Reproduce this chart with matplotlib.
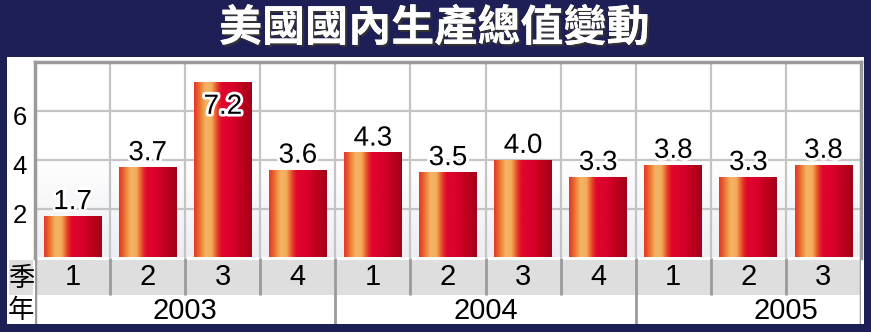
import matplotlib.pyplot as plt
import matplotlib.patheffects as pe
import matplotlib.transforms as mtransforms
from matplotlib.colors import LinearSegmentedColormap
from matplotlib.patches import Rectangle
import numpy as np

# data
title = "美國國內生產總值變動"
quarters = ['1', '2', '3', '4', '1', '2', '3', '4', '1', '2', '3']
years = ['2003', '2004', '2005']
year_pos = [1.5, 5.5, 9.5]
gdp = [1.7, 3.7, 7.2, 3.6, 4.3, 3.5, 4.0, 3.3, 3.8, 3.3, 3.8]

W, H = 871, 332
navy = '#1f1f57'
grid_c = '#c4c4c4'
frame_c = '#9a9a9a'

def fx(px):
    return px / W

def fy(py):
    return 1 - py / H

fig = plt.figure(figsize=(W / 100, H / 100), dpi=100, facecolor=navy)

# white panel
fig.patches.append(Rectangle((fx(7), fy(324)), fx(864) - fx(7), fy(57) - fy(324),
                             transform=fig.transFigure, facecolor='white',
                             edgecolor='none', zorder=-2))
fig.patches.append(Rectangle((fx(9), fy(295)), fx(33) - fx(9), fy(260) - fy(295),
                             transform=fig.transFigure, facecolor='#dedede',
                             edgecolor='none', zorder=-1))

fig.text(fx(434), fy(28), title, color='white', fontsize=31, fontweight='bold',
         family=['Noto Sans CJK TC', 'DejaVu Sans'], ha='center', va='center',
         path_effects=[pe.withSimplePatchShadow(offset=(1.5, -1.5), shadow_rgbFace='#333333', alpha=1),
                       pe.Normal()])

# main plot
ax = fig.add_axes([fx(35), fy(257.5), fx(861) - fx(35), fy(62) - fy(257.5)])
ax.set_facecolor('white')

bg = np.linspace(0, 1, 100).reshape(-1, 1)
bg_cmap = LinearSegmentedColormap.from_list('bg', ['#eceef2', '#ffffff', '#ffffff'])
ax.imshow(bg, extent=[-0.5, len(gdp) - 0.5, 0, 8], origin='lower', aspect='auto',
          cmap=bg_cmap, zorder=0)

for k in range(1, len(gdp)):
    ax.axvline(k - 0.5, color=grid_c, lw=1.6, zorder=1)
for v in [2, 4, 6]:
    ax.axhline(v, color=grid_c, lw=1.6, zorder=1)

bar_cmap = LinearSegmentedColormap.from_list('bar', [
    (0.0, '#e4382a'), (0.06, '#e8582c'), (0.13, '#ee8a3c'), (0.2, '#f4b466'),
    (0.3, '#f3ad5c'), (0.36, '#ea7034'), (0.42, '#e2302a'), (0.48, '#e0062c'),
    (0.68, '#d8002c'), (0.8, '#c2001e'), (1.0, '#a4001a')])
grad = np.linspace(0, 1, 200).reshape(1, -1)

x = np.arange(len(gdp))
bars = ax.bar(x, gdp, width=0.77, color='none', edgecolor='none', zorder=2)
for b, v in zip(bars, gdp):
    im = ax.imshow(grad, extent=[b.get_x(), b.get_x() + b.get_width(), 0, b.get_height()],
                   aspect='auto', cmap=bar_cmap, zorder=2)
    im.set_clip_path(b)
    if v > 6.5:
        ty = v - 1.32
    else:
        ty = v + 0.28
    ax.text(b.get_x() + b.get_width() / 2, ty, f"{v:.1f}", ha='center', va='baseline',
            fontsize=20, family='Liberation Sans', color='black', zorder=4,
            path_effects=[pe.withStroke(linewidth=4, foreground='white')])

ax.set_xlim(-0.5, len(gdp) - 0.5)
ax.set_ylim(0, 8)
ax.set_yticks([2, 4, 6])
ax.set_yticklabels(['2', '4', '6'], fontsize=18.5, family='Liberation Sans')
ax.tick_params(axis='y', length=0, pad=6)
shift = mtransforms.ScaledTranslation(0, -0.045, fig.dpi_scale_trans)
for lab in ax.get_yticklabels():
    lab.set_transform(lab.get_transform() + shift)
ax.set_xticks([])
for s in ['left', 'top', 'right']:
    ax.spines[s].set_color(frame_c)
    ax.spines[s].set_linewidth(2.5)
ax.spines['bottom'].set_visible(False)

# category table under the plot
tb = fig.add_axes([fx(35), fy(324), fx(861) - fx(35), fy(258) - fy(324)])
tb.set_xlim(-0.5, len(gdp) - 0.5)
tb.set_ylim(0, 66)
tb.axis('off')
tb.add_patch(Rectangle((-0.5, 29), len(gdp), 35, facecolor='#dedede', edgecolor='none'))
for k in range(1, len(gdp)):
    if k % 4 == 0:
        tb.plot([k - 0.5, k - 0.5], [0, 66], color=frame_c, lw=2, solid_capstyle='butt')
    else:
        tb.plot([k - 0.5, k - 0.5], [29, 66], color=frame_c, lw=2, solid_capstyle='butt')
for xe in [-0.5, len(gdp) - 0.5]:
    tb.plot([xe, xe], [0, 66], color=frame_c, lw=2.5, solid_capstyle='butt')
for i, q in enumerate(quarters):
    tb.text(i, 47, q, ha='center', va='center', fontsize=21, family='Liberation Sans')
for yp, yr in zip(year_pos, years):
    tb.text(yp, 13, yr, ha='center', va='center', fontsize=21, family='Liberation Sans')

# row headers
fig.text(fx(21), fy(278), '季', fontsize=19, family=['Noto Sans CJK TC', 'DejaVu Sans'],
         ha='center', va='center')
fig.text(fx(21), fy(310), '年', fontsize=19, family=['Noto Sans CJK TC', 'DejaVu Sans'],
         ha='center', va='center')

fig.savefig('out.png', dpi=100, facecolor=navy)
